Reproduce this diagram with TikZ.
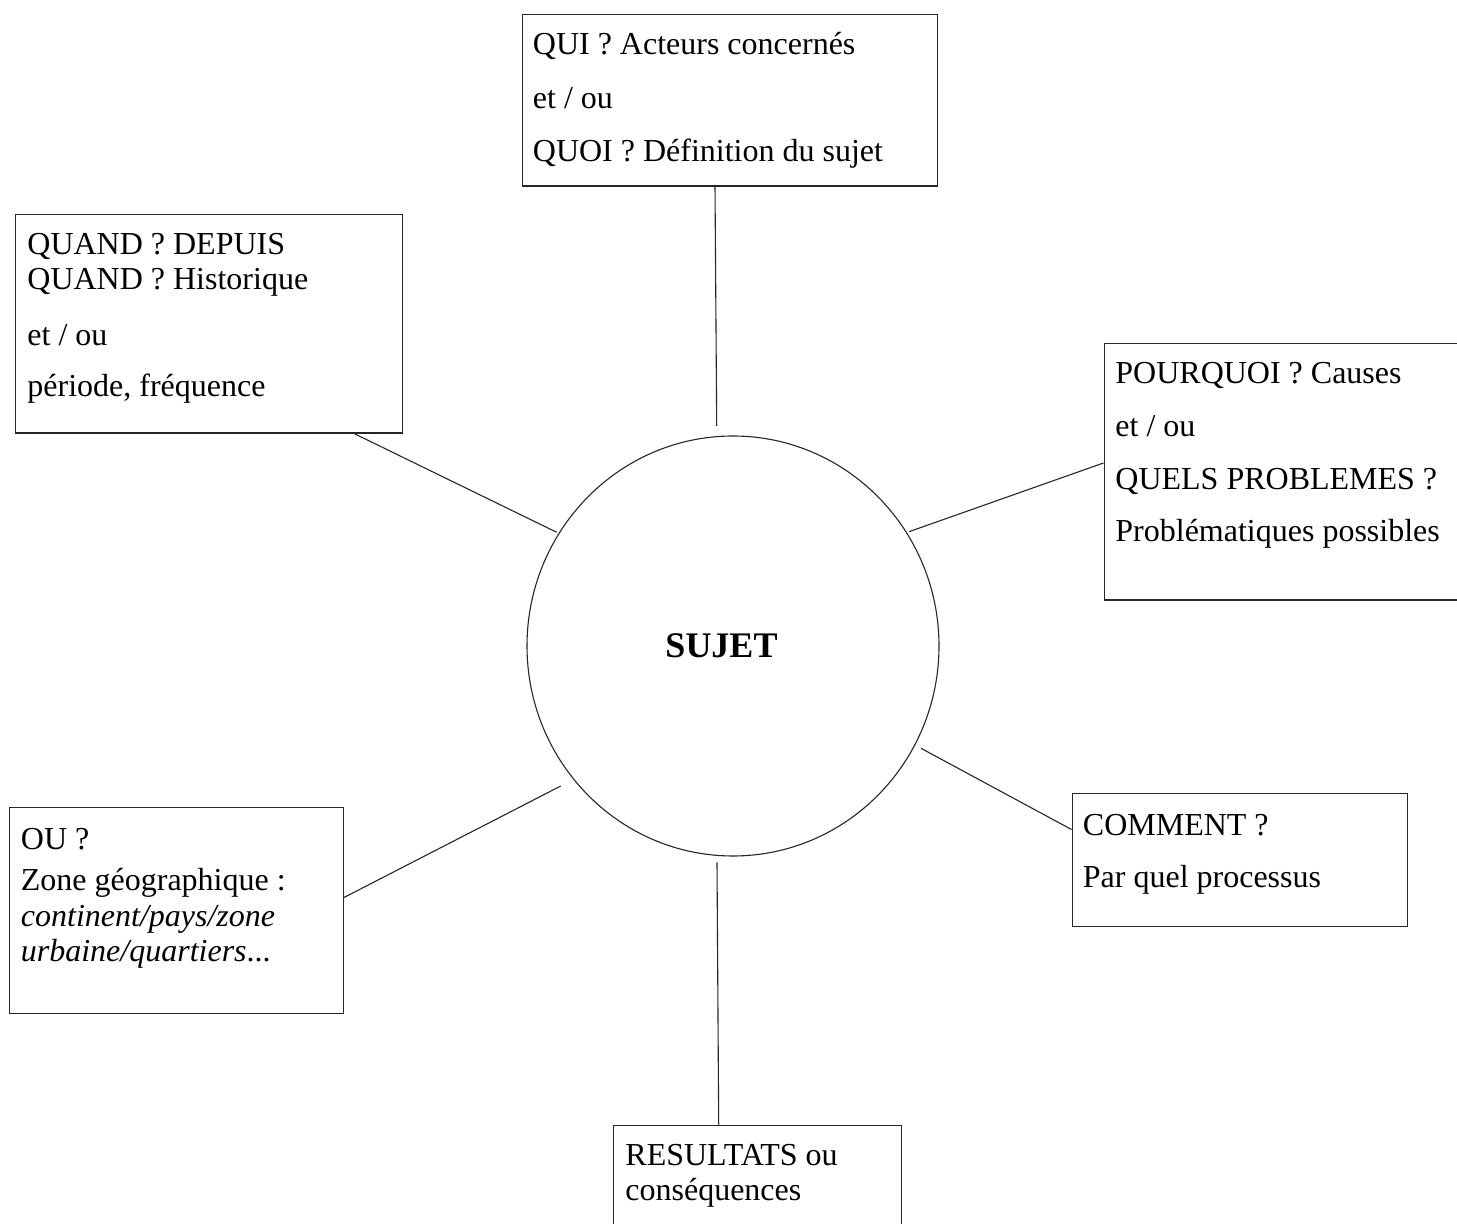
\documentclass[tikz,border=0pt]{standalone}
\usepackage{fontspec}
\setmainfont{Liberation Serif}
\usetikzlibrary{shapes.geometric}
\begin{document}
\begin{tikzpicture}[x=0.5pt,y=-0.5pt,
  box/.style={draw=black!85, line width=0.55pt, rectangle, inner sep=0pt, anchor=north west},
  txt/.style={anchor=base west, inner sep=0pt, font=\fontsize{16}{19}\selectfont},
  link/.style={draw=black!85, line width=0.55pt}]
\useasboundingbox (0,0) rectangle (1457,1224);
\clip (0,0) rectangle (1457,1224);
\fill[white] (0,0) rectangle (1457,1224);

% centre
\node[ellipse, draw=black!85, line width=0.55pt, minimum width=206pt, minimum height=210pt, inner sep=0pt] (sujet) at (733,646) {};
\node[anchor=base, inner sep=0pt, font=\fontsize{18}{21}\selectfont\bfseries] (sujettxt) at (721.5,658) {SUJET};

% boxes
\node[box, minimum width=207.5pt, minimum height=85.75pt] (qui) at (521.5,14) {};
\node[txt] (qui1) at (532.5,55) {QUI ? Acteurs concernés};
\node[txt] (qui2) at (532.5,108.5) {et / ou};
\node[txt] (qui3) at (532.5,161.5) {QUOI ? Définition du sujet};

\node[box, minimum width=193.5pt, minimum height=109.25pt] (quand) at (15,214) {};
\node[txt] (quand1) at (27,255) {QUAND ? DEPUIS};
\node[txt] (quand2) at (27,289.5) {QUAND ? Historique};
\node[txt] (quand3) at (27,345.5) {et / ou};
\node[txt] (quand4) at (27,397) {période, fréquence};

\node[box, minimum width=183.25pt, minimum height=128.25pt] (pourquoi) at (1103.5,343) {};
\node[txt] (pq1) at (1115,384) {POURQUOI ? Causes};
\node[txt] (pq2) at (1115,437) {et / ou};
\node[txt] (pq3) at (1115,490) {QUELS PROBLEMES ?};
\node[txt] (pq4) at (1115,542) {Problématiques possibles};

\node[box, minimum width=167pt, minimum height=103.25pt] (ou) at (8.5,806.5) {};
\node[txt] (ou1) at (20.5,849) {OU ?};
\node[txt] (ou2) at (20.5,890) {Zone géographique :};
\node[txt] (ou3) at (20.5,926.5) {\itshape continent/pays/zone};
\node[txt] (ou4) at (20.5,961.5) {\itshape urbaine/quartiers\upshape...};

\node[box, minimum width=167.5pt, minimum height=66.25pt] (comment) at (1071.5,793) {};
\node[txt] (cm1) at (1082.5,835) {COMMENT ?};
\node[txt] (cm2) at (1082.5,887.5) {Par quel processus};

\node[box, minimum width=144pt, minimum height=57.75pt] (result) at (612.5,1124.5) {};
\node[txt] (rs1) at (625,1165) {RESULTATS ou};
\node[txt] (rs2) at (625,1200) {conséquences};

% connector ends
\coordinate (e1a) at (715,186);    \coordinate (e1b) at (716.7,426);
\coordinate (e2a) at (353,433);    \coordinate (e2b) at (556.7,532.3);
\coordinate (e3a) at (909,531.7);  \coordinate (e3b) at (1103.5,463);
\coordinate (e4a) at (560.7,786);  \coordinate (e4b) at (343,898);
\coordinate (e5a) at (921,748.3);  \coordinate (e5b) at (1071.5,829.5);
\coordinate (e6a) at (717,862.3);  \coordinate (e6b) at (718.7,1124.5);

\draw[link] (e1a) -- (e1b);
\draw[link] (e2a) -- (e2b);
\draw[link] (e3a) -- (e3b);
\draw[link] (e4a) -- (e4b);
\draw[link] (e5a) -- (e5b);
\draw[link] (e6a) -- (e6b);
\end{tikzpicture}
\end{document}
